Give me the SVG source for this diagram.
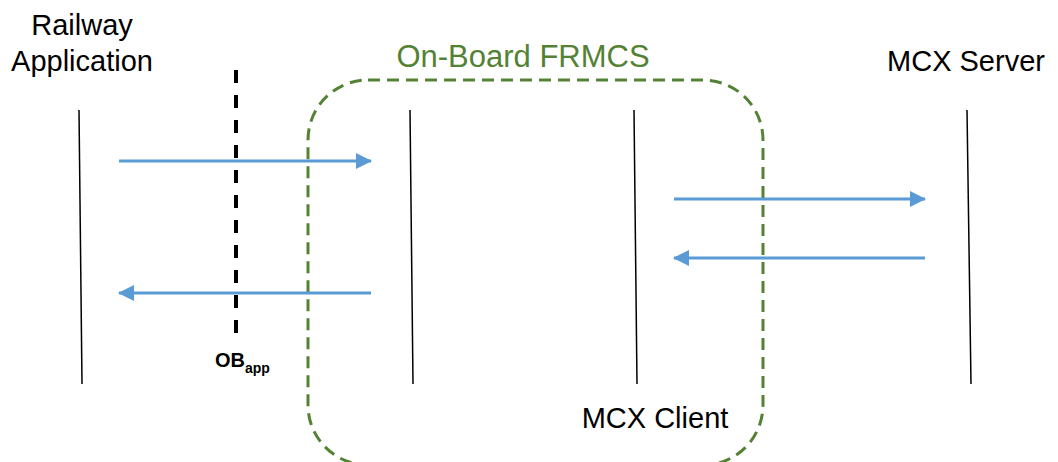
<svg xmlns="http://www.w3.org/2000/svg" width="1058" height="462" viewBox="0 0 1058 462">
<defs>
<style>
.lbl{font-family:"Liberation Sans",Arial,sans-serif;font-size:29px;fill:#000}
.life{stroke:#000;stroke-width:1.5;fill:none}
.msg{stroke:#5B9BD5;stroke-width:3;fill:none}
.grp{stroke:#548235;stroke-width:3;fill:none;stroke-dasharray:12,7}
</style>
<marker id="ah" viewBox="0 0 16 16" refX="15" refY="8" markerWidth="16" markerHeight="16" markerUnits="userSpaceOnUse" orient="auto">
<path d="M0,0 L16,8 L0,16 Z" fill="#5B9BD5"/>
</marker>
</defs>
<rect width="1058" height="462" fill="#fff"/>
<g id="onboard-frmcs">
<rect class="grp" x="308" y="80" width="455" height="385" rx="60" ry="60"/>
<text x="523" y="67" text-anchor="middle" font-family="Liberation Sans,Arial,sans-serif" font-size="31" fill="#548235">On-Board FRMCS</text>
</g>
<g id="railway-application">
<line class="life" x1="79" y1="110" x2="82" y2="384"/>
<text class="lbl" x="82" y="35" text-anchor="middle">Railway</text>
<text class="lbl" x="82" y="71" text-anchor="middle">Application</text>
</g>
<g id="ob-app">
<line x1="236" y1="70" x2="236" y2="340" stroke="#000" stroke-width="4" stroke-dasharray="13,12"/>
<text x="215" y="367" font-family="Liberation Sans,Arial,sans-serif" font-weight="bold" font-size="20" fill="#000">OB<tspan font-size="14" dy="6">app</tspan></text>
</g>
<g id="frmcs-lifeline">
<line class="life" x1="410" y1="110" x2="413" y2="384"/>
</g>
<g id="mcx-client">
<line class="life" x1="634" y1="110" x2="637" y2="384"/>
<text class="lbl" x="655" y="428" text-anchor="middle">MCX Client</text>
</g>
<g id="mcx-server">
<line class="life" x1="967" y1="110" x2="971" y2="384"/>
<text class="lbl" x="966" y="71" text-anchor="middle">MCX Server</text>
</g>
<g id="connectors">
<line class="msg" x1="119" y1="161" x2="371" y2="161" marker-end="url(#ah)"/>
<line class="msg" x1="371" y1="293" x2="119" y2="293" marker-end="url(#ah)"/>
<line class="msg" x1="674" y1="199" x2="925" y2="199" marker-end="url(#ah)"/>
<line class="msg" x1="925" y1="258" x2="674" y2="258" marker-end="url(#ah)"/>
</g>
</svg>
